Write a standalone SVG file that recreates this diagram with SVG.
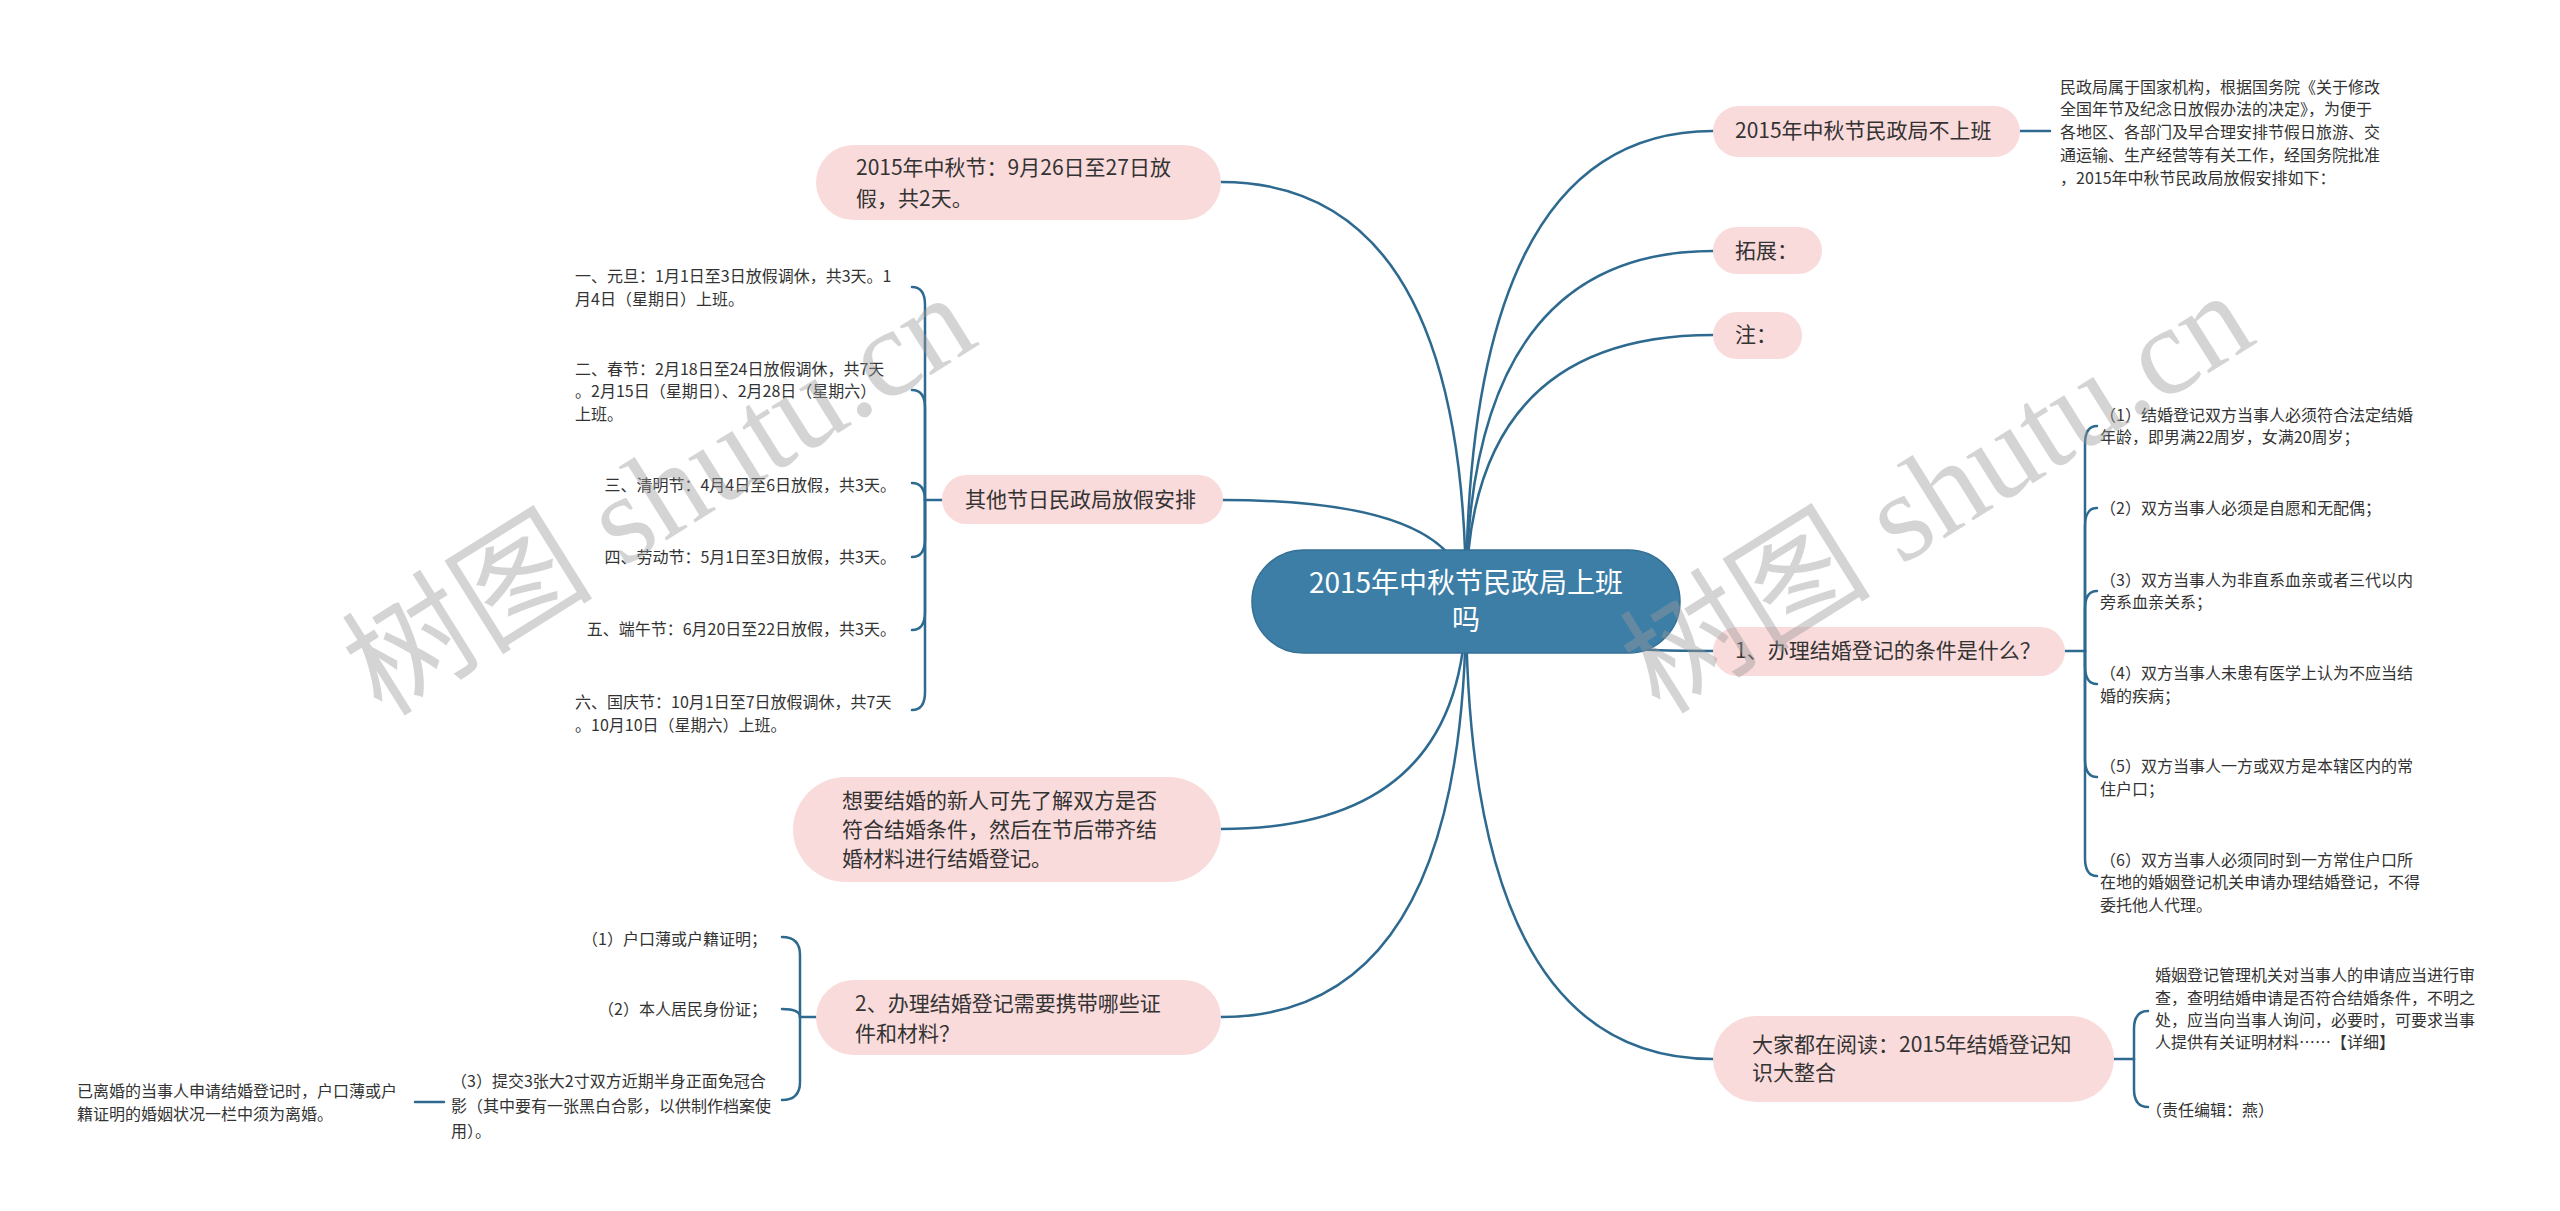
<svg xmlns="http://www.w3.org/2000/svg" width="2560" height="1211" viewBox="0 0 2560 1211">
<style>
.pill{fill:#fadbdb}
.center{fill:#3d7ea6;stroke:#346f95;stroke-width:1.5}
.t{font-family:"Noto Sans CJK SC","Noto Sans",sans-serif;fill:#333}
.n{font-size:21px}
.l{font-size:16px}
.c{font-size:28px;fill:#fff}
.link{fill:none;stroke:#2e6a90;stroke-width:2.5;stroke-linecap:round}
.wm{font-family:"Liberation Serif","Noto Sans CJK SC",serif;font-size:126px;fill:#9a9a9a;opacity:0.42}
</style>
<rect width="2560" height="1211" fill="#fff"/>
<g id="connectors">
<path class="link" d="M1466 601 Q1466 182 1221 182"/>
<path class="link" d="M1466 601 Q1466 500 1223 500"/>
<path class="link" d="M1466 601 Q1466 829 1221 829"/>
<path class="link" d="M1466 601 Q1466 1017 1221 1017"/>
<path class="link" d="M1466 601 Q1466 131 1713 131"/>
<path class="link" d="M1466 601 Q1466 251 1713 251"/>
<path class="link" d="M1466 601 Q1466 335 1713 335"/>
<path class="link" d="M1466 601 Q1466 651 1713 651"/>
<path class="link" d="M1466 601 Q1466 1059 1713 1059"/>
<path class="link" d="M942 500 H925"/>
<path class="link" d="M925 500 V305 Q925 287 912 287"/>
<path class="link" d="M925 500 V408 Q925 390 912 390"/>
<path class="link" d="M925 500 V501 Q925 483 912 483"/>
<path class="link" d="M925 500 V539 Q925 557 912 557"/>
<path class="link" d="M925 500 V612 Q925 630 912 630"/>
<path class="link" d="M925 500 V692 Q925 710 912 710"/>
<path class="link" d="M816 1017 H800"/>
<path class="link" d="M800 1017 V955 Q800 937 782 937"/>
<path class="link" d="M800 1017 Q800 1009 782 1009"/>
<path class="link" d="M800 1017 V1082 Q800 1100 782 1100"/>
<path class="link" d="M415 1102 H444"/>
<path class="link" d="M2020 131 H2050"/>
<path class="link" d="M2065 651 H2085"/>
<path class="link" d="M2085 651 V444 Q2085 426 2097 426"/>
<path class="link" d="M2085 651 V526 Q2085 508 2097 508"/>
<path class="link" d="M2085 651 V609 Q2085 591 2097 591"/>
<path class="link" d="M2085 651 V666 Q2085 684 2097 684"/>
<path class="link" d="M2085 651 V759 Q2085 777 2097 777"/>
<path class="link" d="M2085 651 V858 Q2085 876 2097 876"/>
<path class="link" d="M2114 1059 H2134"/>
<path class="link" d="M2134 1059 V1029 Q2134 1011 2148 1011"/>
<path class="link" d="M2134 1059 V1089 Q2134 1107 2148 1107"/>
</g>
<g id="node-center">
<rect class="center" x="1252" y="550" width="428" height="103" rx="51.5"/>
<text class="t c" x="1466" y="593" text-anchor="middle">2015年中秋节民政局上班</text>
<text class="t c" x="1466" y="630" text-anchor="middle">吗</text>
</g>
<g id="node-a">
<rect class="pill" x="816" y="145" width="405" height="75" rx="37.5"/>
<text class="t n" x="856" y="175">2015年中秋节：9月26日至27日放</text>
<text class="t n" x="856" y="206">假，共2天。</text>
</g>
<g id="node-b">
<rect class="pill" x="942" y="475" width="281" height="49" rx="24.5"/>
<text class="t n" x="965" y="507">其他节日民政局放假安排</text>
</g>
<g id="node-b1"><text class="t l" x="575" y="282">一、元旦：1月1日至3日放假调休，共3天。1</text><text class="t l" x="575" y="305">月4日（星期日）上班。</text></g>
<g id="node-b2"><text class="t l" x="575" y="375">二、春节：2月18日至24日放假调休，共7天</text><text class="t l" x="575" y="397">。2月15日（星期日）、2月28日（星期六）</text><text class="t l" x="575" y="420">上班。</text></g>
<g id="node-b3"><text class="t l" x="896" y="491" text-anchor="end">三、清明节：4月4日至6日放假，共3天。</text></g>
<g id="node-b4"><text class="t l" x="896" y="563" text-anchor="end">四、劳动节：5月1日至3日放假，共3天。</text></g>
<g id="node-b5"><text class="t l" x="896" y="635" text-anchor="end">五、端午节：6月20日至22日放假，共3天。</text></g>
<g id="node-b6"><text class="t l" x="575" y="708">六、国庆节：10月1日至7日放假调休，共7天</text><text class="t l" x="575" y="731">。10月10日（星期六）上班。</text></g>
<g id="node-c">
<rect class="pill" x="793" y="777" width="428" height="105" rx="52.5"/>
<text class="t n" x="842" y="808">想要结婚的新人可先了解双方是否</text>
<text class="t n" x="842" y="837">符合结婚条件，然后在节后带齐结</text>
<text class="t n" x="842" y="866">婚材料进行结婚登记。</text>
</g>
<g id="node-d">
<rect class="pill" x="816" y="980" width="405" height="75" rx="37.5"/>
<text class="t n" x="855" y="1011">2、办理结婚登记需要携带哪些证</text>
<text class="t n" x="855" y="1041">件和材料？</text>
</g>
<g id="node-d1"><text class="t l" x="767" y="945" text-anchor="end">（1）户口薄或户籍证明；</text></g>
<g id="node-d2"><text class="t l" x="767" y="1015" text-anchor="end">（2）本人居民身份证；</text></g>
<g id="node-d3"><text class="t l" x="451" y="1087">（3）提交3张大2寸双方近期半身正面免冠合</text><text class="t l" x="451" y="1112">影（其中要有一张黑白合影，以供制作档案使</text><text class="t l" x="451" y="1137">用）。</text></g>
<g id="node-d3a"><text class="t l" x="77" y="1097">已离婚的当事人申请结婚登记时，户口薄或户</text><text class="t l" x="77" y="1120">籍证明的婚姻状况一栏中须为离婚。</text></g>
<g id="node-r1">
<rect class="pill" x="1713" y="106" width="307" height="51" rx="25.5"/>
<text class="t n" x="1735" y="138">2015年中秋节民政局不上班</text>
</g>
<g id="node-r1a">
<text class="t l" x="2060" y="93">民政局属于国家机构，根据国务院《关于修改</text>
<text class="t l" x="2060" y="115">全国年节及纪念日放假办法的决定》，为便于</text>
<text class="t l" x="2060" y="138">各地区、各部门及早合理安排节假日旅游、交</text>
<text class="t l" x="2060" y="161">通运输、生产经营等有关工作，经国务院批准</text>
<text class="t l" x="2060" y="184">，2015年中秋节民政局放假安排如下：</text>
</g>
<g id="node-r2">
<rect class="pill" x="1713" y="227" width="109" height="47" rx="23.5"/>
<text class="t n" x="1735" y="258">拓展：</text>
</g>
<g id="node-r3">
<rect class="pill" x="1713" y="312" width="89" height="47" rx="23.5"/>
<text class="t n" x="1735" y="342">注：</text>
</g>
<g id="node-r4">
<rect class="pill" x="1713" y="627" width="352" height="49" rx="24.5"/>
<text class="t n" x="1735" y="658">1、办理结婚登记的条件是什么？</text>
</g>
<g id="node-r4-1"><text class="t l" x="2100" y="421">（1）结婚登记双方当事人必须符合法定结婚</text><text class="t l" x="2100" y="443">年龄，即男满22周岁，女满20周岁；</text></g>
<g id="node-r4-2"><text class="t l" x="2100" y="514">（2）双方当事人必须是自愿和无配偶；</text></g>
<g id="node-r4-3"><text class="t l" x="2100" y="586">（3）双方当事人为非直系血亲或者三代以内</text><text class="t l" x="2100" y="608">旁系血亲关系；</text></g>
<g id="node-r4-4"><text class="t l" x="2100" y="679">（4）双方当事人未患有医学上认为不应当结</text><text class="t l" x="2100" y="702">婚的疾病；</text></g>
<g id="node-r4-5"><text class="t l" x="2100" y="772">（5）双方当事人一方或双方是本辖区内的常</text><text class="t l" x="2100" y="795">住户口；</text></g>
<g id="node-r4-6"><text class="t l" x="2100" y="866">（6）双方当事人必须同时到一方常住户口所</text><text class="t l" x="2100" y="888">在地的婚姻登记机关申请办理结婚登记，不得</text><text class="t l" x="2100" y="911">委托他人代理。</text></g>
<g id="node-r5">
<rect class="pill" x="1713" y="1016" width="401" height="86" rx="43"/>
<text class="t n" x="1752" y="1052">大家都在阅读：2015年结婚登记知</text>
<text class="t n" x="1752" y="1080">识大整合</text>
</g>
<g id="node-r5-1">
<text class="t l" x="2155" y="981">婚姻登记管理机关对当事人的申请应当进行审</text>
<text class="t l" x="2155" y="1004">查，查明结婚申请是否符合结婚条件，不明之</text>
<text class="t l" x="2155" y="1026">处，应当向当事人询问，必要时，可要求当事</text>
<text class="t l" x="2155" y="1048">人提供有关证明材料……【详细】</text>
</g>
<g id="node-r5-2"><text class="t l" x="2146" y="1116">（责任编辑：燕）</text></g>
<g id="watermarks">
<text class="wm" transform="translate(382,718) rotate(-32)">树图 shutu.cn</text>
<text class="wm" transform="translate(1660,716) rotate(-32)">树图 shutu.cn</text>
</g>
</svg>
